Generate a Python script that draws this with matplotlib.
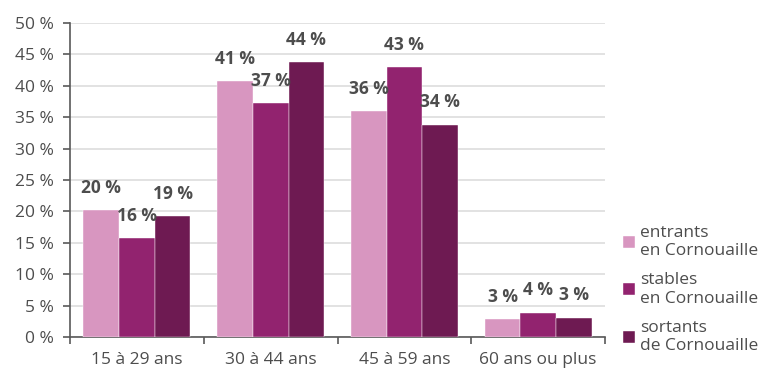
import numpy as np
import matplotlib.pyplot as plt
from matplotlib.ticker import FuncFormatter

plt.rcParams['font.family'] = ['Open Sans', 'DejaVu Sans']

# données
categories = ['15 à 29 ans', '30 à 44 ans', '45 à 59 ans', '60 ans ou plus']
entrants = [20.2, 40.8, 36.0, 2.9]
stables = [15.7, 37.2, 43.0, 3.9]
sortants = [19.2, 43.8, 33.8, 3.1]
labels_entrants = ['20 %', '41 %', '36 %', '3 %']
labels_stables = ['16 %', '37 %', '43 %', '4 %']
labels_sortants = ['19 %', '44 %', '34 %', '3 %']
series_names = ['entrants\nen Cornouaille', 'stables\nen Cornouaille', 'sortants\nde Cornouaille']
colors = ['#d896c0', '#92236f', '#6e1a52']
text_color = '#4d4d4d'

fig = plt.figure(figsize=(7.62, 3.7), dpi=100)
ax = fig.add_axes([0.092, 0.089, 0.702, 0.849])

x = np.arange(len(categories))
w = 0.8 / 3
series = [(entrants, labels_entrants), (stables, labels_stables), (sortants, labels_sortants)]
handles = []
for i, (vals, labs) in enumerate(series):
    pos = x + (i - 1) * w
    b = ax.bar(pos, vals, width=w, color=colors[i], edgecolor='white', linewidth=0.3, zorder=3)
    handles.append(b)
    for p, v, t in zip(pos, vals, labs):
        ax.annotate(t, (p, v), xytext=(0, 16), textcoords='offset points',
                    ha='center', va='center', fontsize=12.5, fontweight='bold',
                    color=text_color, zorder=4)

ax.set_xlim(-0.5, len(categories) - 0.5)
ax.set_ylim(0, 50)
ax.set_yticks(np.arange(0, 51, 5))
ax.yaxis.set_major_formatter(FuncFormatter(lambda v, _: f'{int(v)} %'))
ax.grid(axis='y', color='#dddddd', linewidth=1.2, zorder=0)
ax.set_axisbelow(True)

ax.set_xticks(x)
ax.set_xticklabels(categories)
ax.set_xticks(np.arange(-0.5, len(categories), 1), minor=True)
ax.tick_params(axis='x', which='major', length=0, pad=11, labelsize=12.5, labelcolor=text_color)
ax.tick_params(axis='x', which='minor', length=5, width=1.2, color='#595959', direction='out')
ax.tick_params(axis='y', length=5, width=1.2, color='#595959', pad=7, labelsize=12.5, labelcolor=text_color)

for s in ['top', 'right']:
    ax.spines[s].set_visible(False)
for s in ['left', 'bottom']:
    ax.spines[s].set_color('#595959')
    ax.spines[s].set_linewidth(1.2)

fig.legend(handles, series_names, loc='center left', bbox_to_anchor=(0.817, 0.218),
           frameon=False, fontsize=12.5, handlelength=0.7, handleheight=0.7,
           handletextpad=0.3, labelspacing=0.75, labelcolor=text_color,
           borderaxespad=0, borderpad=0)

fig.savefig('out.png', dpi=100)
